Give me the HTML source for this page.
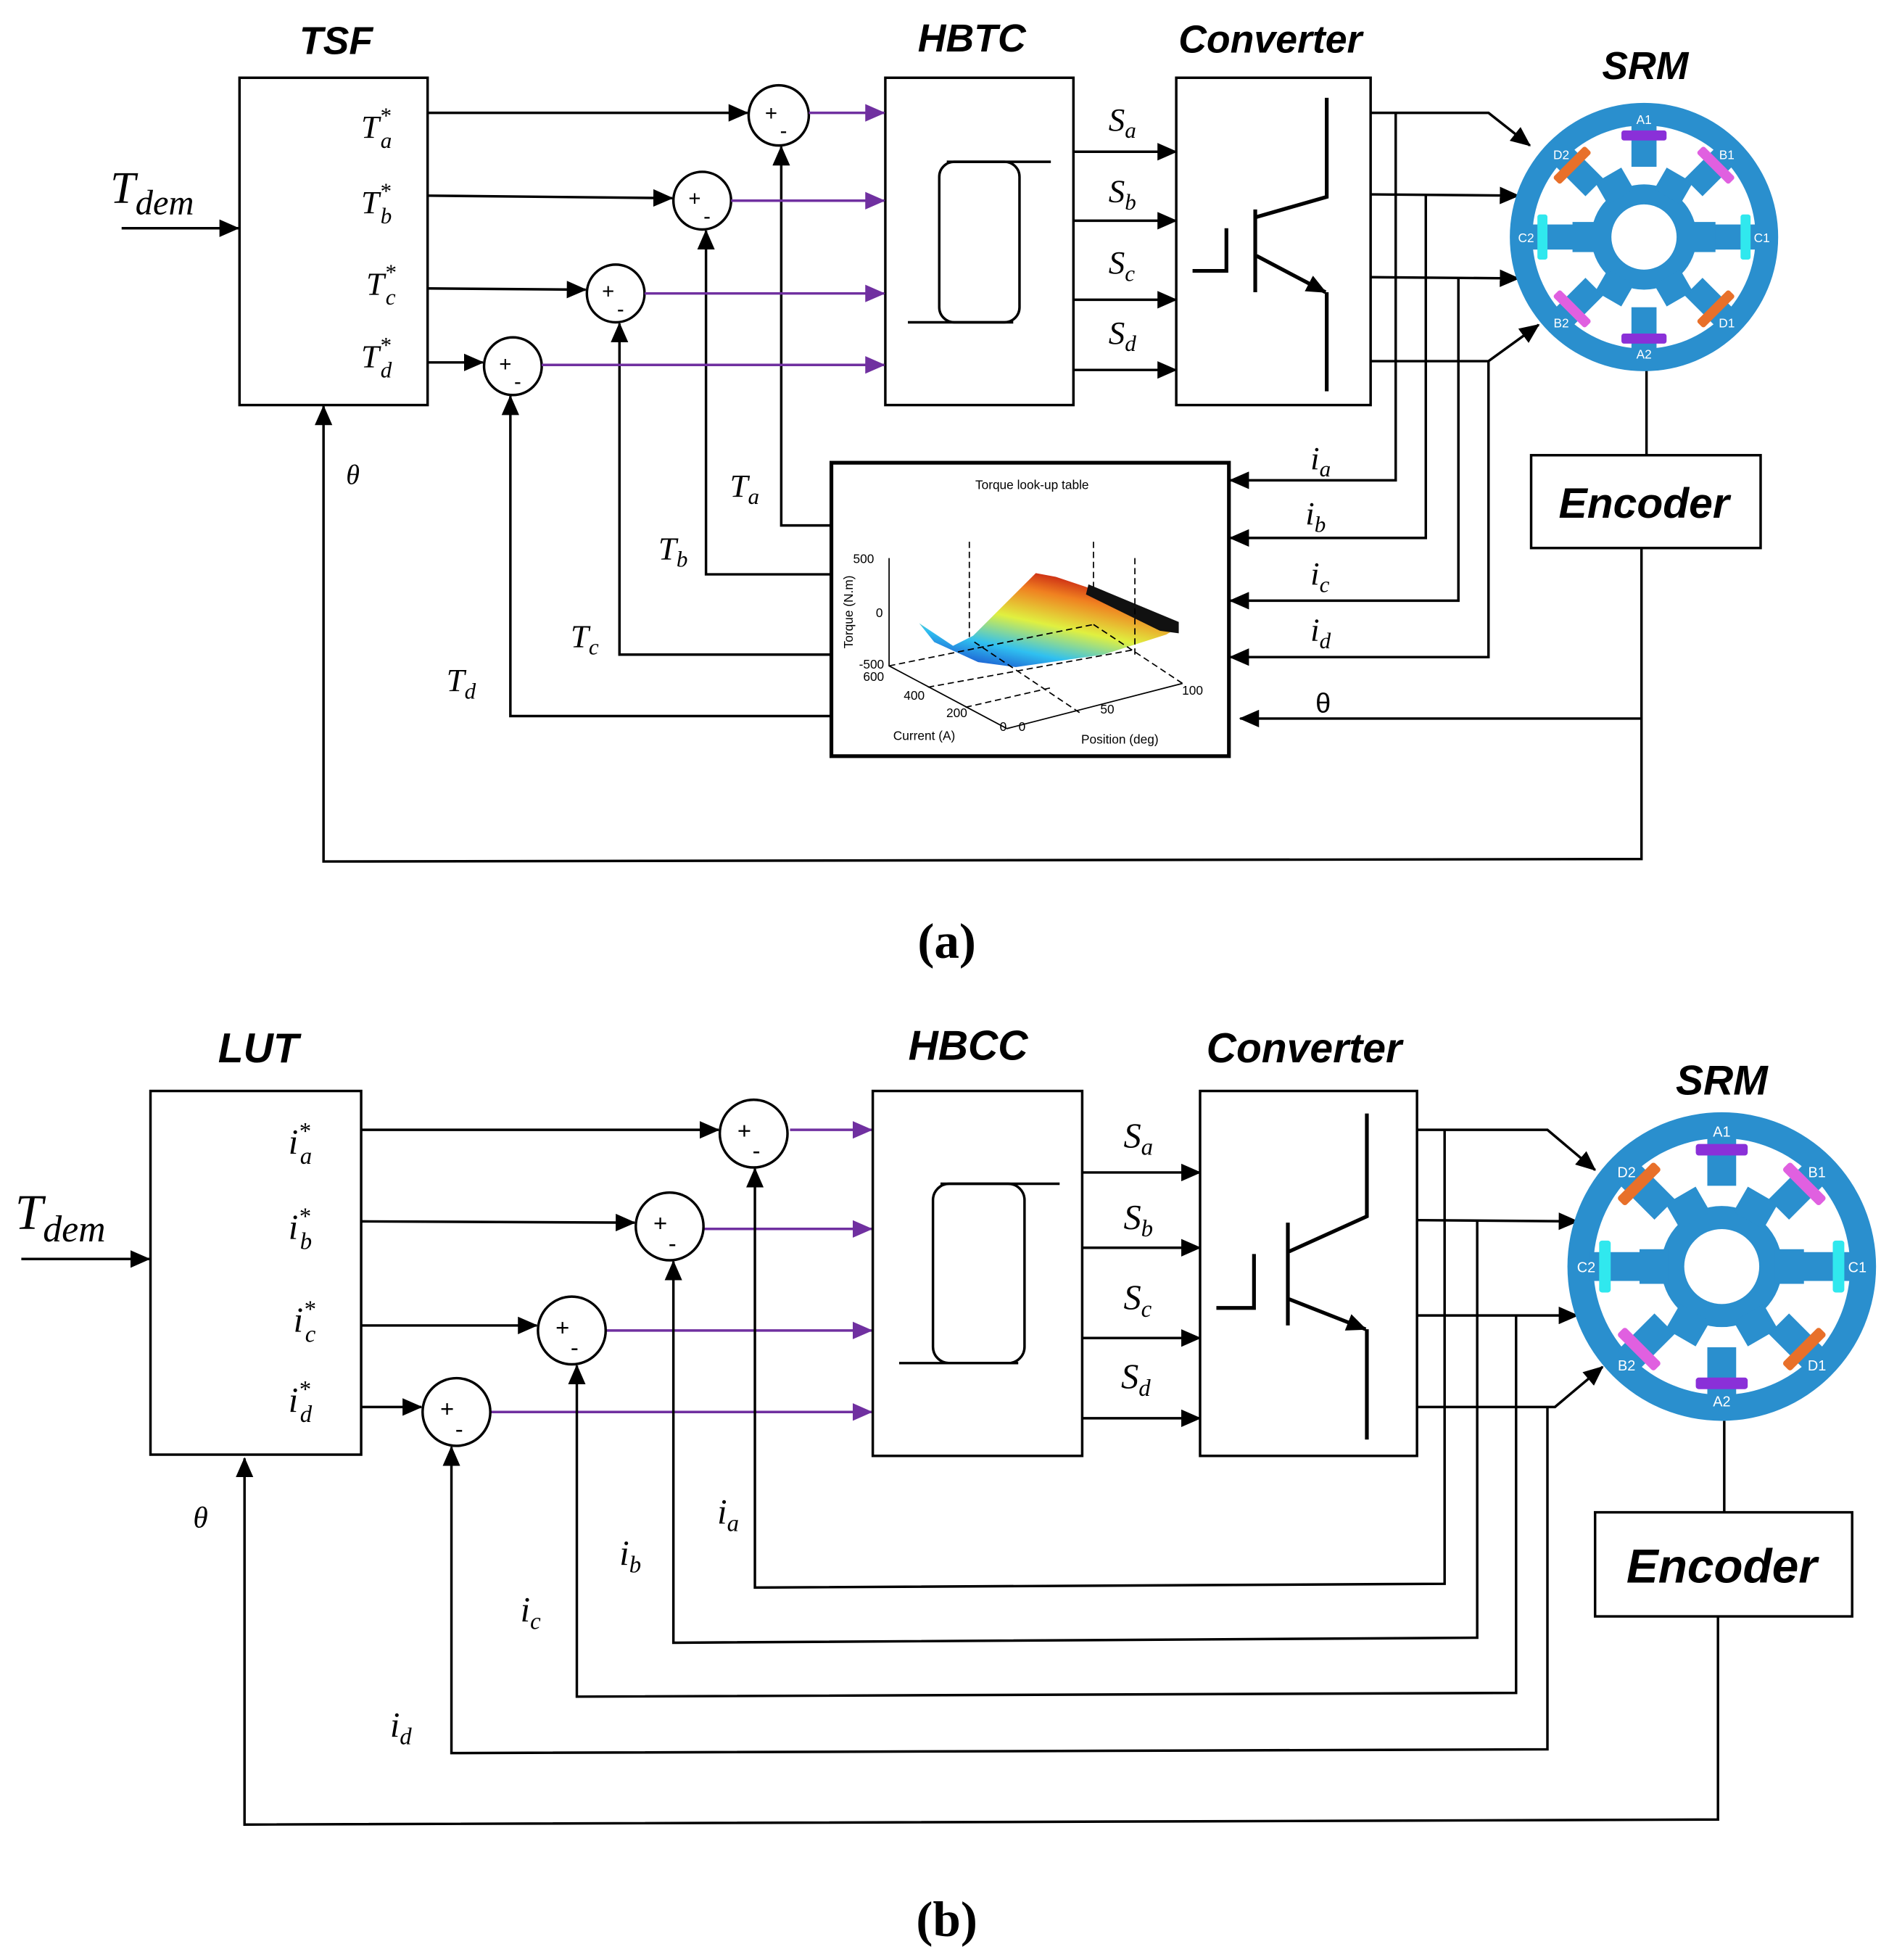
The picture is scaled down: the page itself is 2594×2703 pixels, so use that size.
<!DOCTYPE html>
<html><head><meta charset="utf-8"><style>
html,body{margin:0;padding:0;background:#fff;}
svg{display:block;}
.t{font-family:"Liberation Sans",sans-serif;font-weight:bold;font-style:italic;}
.m{font-family:"Liberation Serif",serif;font-style:italic;}
.s{font-family:"Liberation Sans",sans-serif;}
</style></head><body>
<svg width="2594" height="2703" viewBox="0 0 1500 1563" xmlns="http://www.w3.org/2000/svg">
<defs>
<marker id="ab" markerUnits="userSpaceOnUse" markerWidth="16" markerHeight="14" refX="15" refY="7" orient="auto"><path d="M0,0 L16,7 L0,14 z" fill="#000"/></marker>
<marker id="ap" markerUnits="userSpaceOnUse" markerWidth="16" markerHeight="14" refX="15" refY="7" orient="auto"><path d="M0,0 L16,7 L0,14 z" fill="#7030a0"/></marker>
<linearGradient id="jet" x1="0" y1="1" x2="0.6" y2="0">
<stop offset="0" stop-color="#1020c0"/><stop offset="0.3" stop-color="#30c0f0"/><stop offset="0.55" stop-color="#e0f040"/><stop offset="0.8" stop-color="#f08020"/><stop offset="1" stop-color="#c01010"/></linearGradient>
<g id="srm">
<circle r="107" fill="#2a8fce"/>
<circle r="89" fill="#fff"/>
<g fill="#2a8fce">
<rect x="-10" y="-92" width="20" height="36"/>
<rect x="-10" y="-92" width="20" height="36" transform="rotate(45)"/>
<rect x="-10" y="-92" width="20" height="36" transform="rotate(90)"/>
<rect x="-10" y="-92" width="20" height="36" transform="rotate(135)"/>
<rect x="-10" y="-92" width="20" height="36" transform="rotate(180)"/>
<rect x="-10" y="-92" width="20" height="36" transform="rotate(225)"/>
<rect x="-10" y="-92" width="20" height="36" transform="rotate(270)"/>
<rect x="-10" y="-92" width="20" height="36" transform="rotate(315)"/>
<circle r="42"/>
<rect x="-12" y="-57" width="24" height="20" transform="rotate(30)"/>
<rect x="-12" y="-57" width="24" height="20" transform="rotate(90)"/>
<rect x="-12" y="-57" width="24" height="20" transform="rotate(150)"/>
<rect x="-12" y="-57" width="24" height="20" transform="rotate(210)"/>
<rect x="-12" y="-57" width="24" height="20" transform="rotate(270)"/>
<rect x="-12" y="-57" width="24" height="20" transform="rotate(330)"/>
</g>
<circle r="26" fill="#fff"/>
<rect x="-18" y="-85" width="36" height="8" rx="2" fill="#8a30d8"/>
<rect x="-18" y="-85" width="36" height="8" rx="2" fill="#e060e0" transform="rotate(45)"/>
<rect x="-18" y="-85" width="36" height="8" rx="2" fill="#30e8ee" transform="rotate(90)"/>
<rect x="-18" y="-85" width="36" height="8" rx="2" fill="#e8702a" transform="rotate(135)"/>
<rect x="-18" y="-85" width="36" height="8" rx="2" fill="#8a30d8" transform="rotate(180)"/>
<rect x="-18" y="-85" width="36" height="8" rx="2" fill="#e060e0" transform="rotate(225)"/>
<rect x="-18" y="-85" width="36" height="8" rx="2" fill="#30e8ee" transform="rotate(270)"/>
<rect x="-18" y="-85" width="36" height="8" rx="2" fill="#e8702a" transform="rotate(315)"/>
<g class="s" fill="#fff" font-size="10" text-anchor="middle">
<text x="0" y="-90">A1</text><text x="0" y="97">A2</text>
<text x="94" y="4">C1</text><text x="-94" y="4">C2</text>
<text x="66" y="-62">B1</text><text x="-66" y="72">B2</text>
<text x="-66" y="-62">D2</text><text x="66" y="72">D1</text>
</g>
</g>
</defs>

<g fill="none" stroke="#000" stroke-width="2">
<!-- ===== (a) ===== -->
<rect x="191" y="62" width="150" height="261"/>
<rect x="706" y="62" width="150" height="261"/>
<rect x="938" y="62" width="155" height="261"/>
<rect x="663" y="369" width="317" height="234" stroke-width="3"/>
<rect x="1221" y="363" width="183" height="74"/>
<circle cx="621" cy="92" r="24"/><circle cx="560" cy="160" r="23"/>
<circle cx="491" cy="234" r="23"/><circle cx="409" cy="292" r="23"/>
<line x1="97" y1="182" x2="190" y2="182" marker-end="url(#ab)"/>
<line x1="341" y1="90" x2="596" y2="90" marker-end="url(#ab)"/>
<line x1="341" y1="156" x2="536" y2="158" marker-end="url(#ab)"/>
<line x1="341" y1="230" x2="467" y2="231" marker-end="url(#ab)"/>
<line x1="341" y1="289" x2="385" y2="289" marker-end="url(#ab)"/>
<!-- hysteresis -->
<rect x="749" y="129" width="64" height="128" rx="12"/>
<line x1="755" y1="129" x2="838" y2="129"/><line x1="724" y1="257" x2="808" y2="257"/>
<line x1="856" y1="121" x2="938" y2="121" marker-end="url(#ab)"/>
<line x1="856" y1="176" x2="938" y2="176" marker-end="url(#ab)"/>
<line x1="856" y1="239" x2="938" y2="239" marker-end="url(#ab)"/>
<line x1="856" y1="295" x2="938" y2="295" marker-end="url(#ab)"/>
<!-- transistor a -->
<polyline points="1058,78 1058,157 1002,173" stroke-width="3"/>
<line x1="1001" y1="167" x2="1001" y2="233" stroke-width="3"/>
<polyline points="951,216 978,216 978,182" stroke-width="3"/>
<line x1="1002" y1="204" x2="1057" y2="233" stroke-width="3" marker-end="url(#ab)"/>
<line x1="1058" y1="233" x2="1058" y2="312" stroke-width="3"/>
<!-- outputs -->
<polyline points="1093,90 1187,90 1220,116" marker-end="url(#ab)"/>
<line x1="1093" y1="155" x2="1211" y2="156" marker-end="url(#ab)"/>
<line x1="1093" y1="221" x2="1211" y2="222" marker-end="url(#ab)"/>
<polyline points="1093,288 1187,288 1227,259" marker-end="url(#ab)"/>
<polyline points="1113,90 1113,383 981,383" marker-end="url(#ab)"/>
<polyline points="1137,155 1137,429 981,429" marker-end="url(#ab)"/>
<polyline points="1163,221 1163,479 981,479" marker-end="url(#ab)"/>
<polyline points="1187,288 1187,524 981,524" marker-end="url(#ab)"/>
<line x1="1313" y1="295" x2="1313" y2="363"/>
<line x1="1309" y1="573" x2="989" y2="573" marker-end="url(#ab)"/>
<polyline points="1309,437 1309,685 258,687 258,324" marker-end="url(#ab)"/>
<polyline points="663,419 623,419 623,117" marker-end="url(#ab)"/>
<polyline points="663,458 563,458 563,184" marker-end="url(#ab)"/>
<polyline points="663,522 494,522 494,258" marker-end="url(#ab)"/>
<polyline points="663,571 407,571 407,316" marker-end="url(#ab)"/>
</g>
<g stroke="#7030a0" stroke-width="2" fill="none">
<line x1="645" y1="90" x2="705" y2="90" marker-end="url(#ap)"/>
<line x1="583" y1="160" x2="705" y2="160" marker-end="url(#ap)"/>
<line x1="514" y1="234" x2="705" y2="234" marker-end="url(#ap)"/>
<line x1="432" y1="291" x2="705" y2="291" marker-end="url(#ap)"/>
<line x1="630" y1="901" x2="695" y2="901" marker-end="url(#ap)"/>
<line x1="561" y1="980" x2="695" y2="980" marker-end="url(#ap)"/>
<line x1="483" y1="1061" x2="695" y2="1061" marker-end="url(#ap)"/>
<line x1="391" y1="1126" x2="695" y2="1126" marker-end="url(#ap)"/>
</g>
<g class="s" font-size="17">
<text x="610" y="96">+</text><text x="622" y="110">-</text>
<text x="549" y="164">+</text><text x="561" y="178">-</text>
<text x="480" y="238">+</text><text x="492" y="252">-</text>
<text x="398" y="296">+</text><text x="410" y="310">-</text>
</g>
<use href="#srm" x="1311" y="189"/>
<!-- plot -->
<g font-size="10" class="s">
<text x="823" y="390" text-anchor="middle">Torque look-up table</text>
<polygon points="733,497 760,515 776,507 826,457 842,460 872,470 940,500 930,506 880,522 810,532 780,528 745,512" fill="url(#jet)"/>
<polygon points="868,466 940,496 940,505 925,503 866,474" fill="#111"/>
<g stroke="#000" stroke-width="1" fill="none">
<polyline points="709,445 709,531 803,581 943,545"/>
<g stroke-dasharray="5,3"><line x1="773" y1="432" x2="773" y2="508"/><line x1="872" y1="432" x2="872" y2="468"/><line x1="905" y1="445" x2="905" y2="523"/>
<line x1="709" y1="531" x2="872" y2="498"/><line x1="872" y1="498" x2="943" y2="545"/><line x1="740" y1="548" x2="905" y2="518"/><line x1="770" y1="564" x2="840" y2="548"/><line x1="777" y1="512" x2="862" y2="569"/></g>
</g>
<text x="697" y="449" text-anchor="end">500</text><text x="704" y="492" text-anchor="end">0</text>
<text x="705" y="533" text-anchor="end">-500</text><text x="705" y="543" text-anchor="end">600</text>
<text x="729" y="558" text-anchor="middle">400</text><text x="763" y="572" text-anchor="middle">200</text>
<text x="800" y="583" text-anchor="middle">0</text><text x="815" y="583" text-anchor="middle">0</text>
<text x="883" y="569" text-anchor="middle">50</text><text x="951" y="554" text-anchor="middle">100</text>
<text x="737" y="590" text-anchor="middle">Current (A)</text><text x="893" y="593" text-anchor="middle">Position (deg)</text>
<text transform="translate(680,488) rotate(-90)" text-anchor="middle">Torque (N.m)</text>
</g>
<!-- labels (a) -->
<g class="t" font-size="31" text-anchor="middle">
<text x="268" y="43">TSF</text><text x="775" y="41">HBTC</text><text x="1013" y="42">Converter</text>
<text x="1312" y="63">SRM</text><text x="1311" y="413" font-size="34">Encoder</text>
</g>
<g class="m" font-size="26">
<text x="88" y="162" font-size="36">T<tspan font-size="28" dy="9">dem</tspan></text>
<text x="288" y="110">T<tspan font-size="18" dy="-12">*</tspan><tspan font-size="18" dx="-8" dy="20">a</tspan></text>
<text x="288" y="170">T<tspan font-size="18" dy="-12">*</tspan><tspan font-size="18" dx="-8" dy="20">b</tspan></text>
<text x="292" y="235">T<tspan font-size="18" dy="-12">*</tspan><tspan font-size="18" dx="-8" dy="20">c</tspan></text>
<text x="288" y="293">T<tspan font-size="18" dy="-12">*</tspan><tspan font-size="18" dx="-8" dy="20">d</tspan></text>
<text x="884" y="104">S<tspan font-size="18" dy="6">a</tspan></text>
<text x="884" y="161">S<tspan font-size="18" dy="6">b</tspan></text>
<text x="884" y="218">S<tspan font-size="18" dy="6">c</tspan></text>
<text x="884" y="274">S<tspan font-size="18" dy="6">d</tspan></text>
<text x="1045" y="374">i<tspan font-size="18" dy="6">a</tspan></text>
<text x="1041" y="418">i<tspan font-size="18" dy="6">b</tspan></text>
<text x="1045" y="466">i<tspan font-size="18" dy="6">c</tspan></text>
<text x="1045" y="511">i<tspan font-size="18" dy="6">d</tspan></text>
<text x="582" y="396">T<tspan font-size="18" dy="6">a</tspan></text>
<text x="525" y="446">T<tspan font-size="18" dy="6">b</tspan></text>
<text x="455" y="516">T<tspan font-size="18" dy="6">c</tspan></text>
<text x="356" y="551">T<tspan font-size="18" dy="6">d</tspan></text>
<text x="276" y="386" font-size="22">θ</text>
</g>
<text x="1049" y="568" class="s" font-size="22">θ</text>
<text x="755" y="764" font-family="Liberation Serif,serif" font-weight="bold" font-size="40" text-anchor="middle">(a)</text>

<!-- ===== (b) ===== -->
<g fill="none" stroke="#000" stroke-width="2">
<rect x="120" y="870" width="168" height="290"/>
<rect x="696" y="870" width="167" height="291"/>
<rect x="957" y="870" width="173" height="291"/>
<rect x="1272" y="1206" width="205" height="83"/>
<circle cx="601" cy="904" r="27"/><circle cx="534" cy="978" r="27"/>
<circle cx="456" cy="1061" r="27"/><circle cx="364" cy="1126" r="27"/>
<line x1="17" y1="1004" x2="119" y2="1004" marker-end="url(#ab)"/>
<line x1="288" y1="901" x2="573" y2="901" marker-end="url(#ab)"/>
<line x1="288" y1="974" x2="506" y2="975" marker-end="url(#ab)"/>
<line x1="288" y1="1057" x2="428" y2="1057" marker-end="url(#ab)"/>
<line x1="288" y1="1122" x2="336" y2="1122" marker-end="url(#ab)"/>
<rect x="744" y="944" width="73" height="143" rx="13"/>
<line x1="750" y1="944" x2="845" y2="944"/><line x1="717" y1="1087" x2="812" y2="1087"/>
<line x1="863" y1="935" x2="957" y2="935" marker-end="url(#ab)"/>
<line x1="863" y1="995" x2="957" y2="995" marker-end="url(#ab)"/>
<line x1="863" y1="1067" x2="957" y2="1067" marker-end="url(#ab)"/>
<line x1="863" y1="1131" x2="957" y2="1131" marker-end="url(#ab)"/>
<polyline points="1090,888 1090,970 1028,998" stroke-width="3"/>
<line x1="1027" y1="975" x2="1027" y2="1057" stroke-width="3"/>
<polyline points="970,1043 1000,1043 1000,1000" stroke-width="3"/>
<line x1="1028" y1="1036" x2="1089" y2="1060" stroke-width="3" marker-end="url(#ab)"/>
<line x1="1090" y1="1060" x2="1090" y2="1148" stroke-width="3"/>
<polyline points="1130,901 1234,901 1272,933" marker-end="url(#ab)"/>
<line x1="1130" y1="973" x2="1258" y2="974" marker-end="url(#ab)"/>
<line x1="1130" y1="1049" x2="1258" y2="1049" marker-end="url(#ab)"/>
<polyline points="1130,1122 1240,1122 1278,1090" marker-end="url(#ab)"/>
<polyline points="1152,901 1152,1263 602,1266 602,932" marker-end="url(#ab)"/>
<polyline points="1178,973 1178,1306 537,1310 537,1006" marker-end="url(#ab)"/>
<polyline points="1209,1049 1209,1350 460,1353 460,1089" marker-end="url(#ab)"/>
<polyline points="1234,1122 1234,1395 360,1398 360,1154" marker-end="url(#ab)"/>
<line x1="1375" y1="1133" x2="1375" y2="1206"/>
<polyline points="1370,1289 1370,1451 195,1455 195,1163" marker-end="url(#ab)"/>
</g>
<g class="s" font-size="19">
<text x="588" y="908">+</text><text x="600" y="924">-</text>
<text x="521" y="982">+</text><text x="533" y="998">-</text>
<text x="443" y="1065">+</text><text x="455" y="1081">-</text>
<text x="351" y="1130">+</text><text x="363" y="1146">-</text>
</g>
<use href="#srm" transform="translate(1373,1010) scale(1.15)"/>
<g class="t" font-size="33" text-anchor="middle">
<text x="206" y="847">LUT</text><text x="772" y="845">HBCC</text><text x="1040" y="847">Converter</text>
<text x="1373" y="873">SRM</text><text x="1373" y="1262" font-size="38">Encoder</text>
</g>
<g class="m" font-size="28">
<text x="12" y="980" font-size="40">T<tspan font-size="30" dy="10">dem</tspan></text>
<text x="230" y="920">i<tspan font-size="19" dy="-12">*</tspan><tspan font-size="19" dx="-8" dy="20">a</tspan></text>
<text x="230" y="988">i<tspan font-size="19" dy="-12">*</tspan><tspan font-size="19" dx="-8" dy="20">b</tspan></text>
<text x="234" y="1062">i<tspan font-size="19" dy="-12">*</tspan><tspan font-size="19" dx="-8" dy="20">c</tspan></text>
<text x="230" y="1126">i<tspan font-size="19" dy="-12">*</tspan><tspan font-size="19" dx="-8" dy="20">d</tspan></text>
<text x="896" y="915">S<tspan font-size="19" dy="6">a</tspan></text>
<text x="896" y="980">S<tspan font-size="19" dy="6">b</tspan></text>
<text x="896" y="1044">S<tspan font-size="19" dy="6">c</tspan></text>
<text x="894" y="1107">S<tspan font-size="19" dy="6">d</tspan></text>
<text x="572" y="1215">i<tspan font-size="19" dy="6">a</tspan></text>
<text x="494" y="1248">i<tspan font-size="19" dy="6">b</tspan></text>
<text x="415" y="1293">i<tspan font-size="19" dy="6">c</tspan></text>
<text x="311" y="1385">i<tspan font-size="19" dy="6">d</tspan></text>
<text x="154" y="1218" font-size="24">θ</text>
</g>
<text x="755" y="1544" font-family="Liberation Serif,serif" font-weight="bold" font-size="40" text-anchor="middle">(b)</text>
</svg>
</body></html>
